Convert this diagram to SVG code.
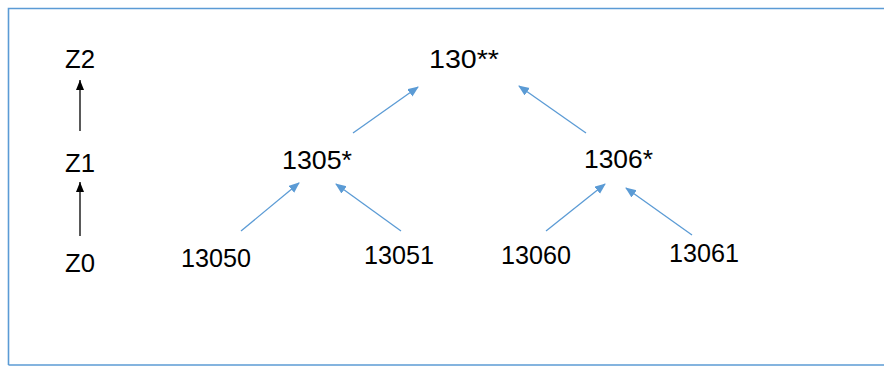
<svg xmlns="http://www.w3.org/2000/svg" width="884" height="367" viewBox="0 0 884 367">
<style>
text{font-family:"Liberation Sans",Arial,sans-serif;font-size:25px;fill:#000}
.b{stroke:#5B9BD5;stroke-width:1.3;fill:none}
.k{stroke:#000;stroke-width:1.3;fill:none}
</style>
<defs>
<marker id="ab" markerWidth="12" markerHeight="10" refX="10" refY="4.5" orient="auto" markerUnits="userSpaceOnUse"><path d="M0,0 L11,4.5 L0,9 Z" fill="#5B9BD5"/></marker>
<marker id="ak" markerWidth="12" markerHeight="10" refX="10" refY="4" orient="auto" markerUnits="userSpaceOnUse"><path d="M0,0 L10,4 L0,8 Z" fill="#000"/></marker>
</defs>
<rect x="0" y="0" width="884" height="367" fill="#fff"/>
<path d="M890,8.5 H8.5 V365" stroke="#5B9BD5" stroke-width="1.6" fill="none"/>
<path d="M8.5,365 H890" stroke="#5B9BD5" stroke-width="1.6" fill="none"/>
<g id="connectors">
<line class="k" x1="80" y1="131" x2="80" y2="80" marker-end="url(#ak)"/>
<line class="k" x1="80" y1="236" x2="80" y2="182" marker-end="url(#ak)"/>
<line class="b" x1="353" y1="133" x2="418" y2="87" marker-end="url(#ab)"/>
<line class="b" x1="586" y1="133" x2="519" y2="86" marker-end="url(#ab)"/>
<line class="b" x1="241" y1="231" x2="299" y2="183" marker-end="url(#ab)"/>
<line class="b" x1="401" y1="231" x2="336" y2="184" marker-end="url(#ab)"/>
<line class="b" x1="546" y1="231" x2="605" y2="184" marker-end="url(#ab)"/>
<line class="b" x1="692" y1="235" x2="626" y2="188" marker-end="url(#ab)"/>
</g>
<g id="z2"><text x="65" y="68" textLength="30" lengthAdjust="spacingAndGlyphs">Z2</text></g>
<g id="z1"><text x="65" y="172" textLength="30" lengthAdjust="spacingAndGlyphs">Z1</text></g>
<g id="z0"><text x="65" y="272" textLength="30" lengthAdjust="spacingAndGlyphs">Z0</text></g>
<g id="n130"><text x="429" y="68" textLength="70" lengthAdjust="spacingAndGlyphs">130**</text></g>
<g id="n1305"><text x="282" y="169" textLength="70" lengthAdjust="spacingAndGlyphs">1305*</text></g>
<g id="n1306"><text x="584" y="168" textLength="69" lengthAdjust="spacingAndGlyphs">1306*</text></g>
<g id="n13050"><text x="181" y="267" textLength="70" lengthAdjust="spacingAndGlyphs">13050</text></g>
<g id="n13051"><text x="364" y="264" textLength="70" lengthAdjust="spacingAndGlyphs">13051</text></g>
<g id="n13060"><text x="501" y="264" textLength="70" lengthAdjust="spacingAndGlyphs">13060</text></g>
<g id="n13061"><text x="669" y="262" textLength="70" lengthAdjust="spacingAndGlyphs">13061</text></g>
</svg>
